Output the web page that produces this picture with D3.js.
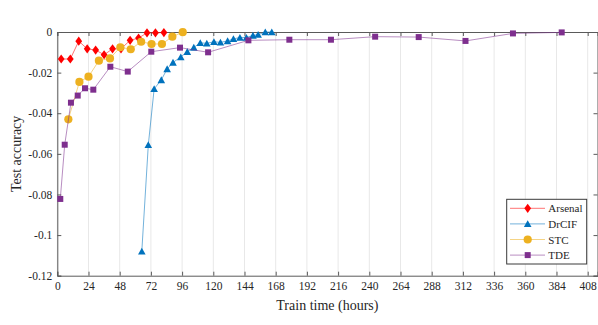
<!DOCTYPE html>
<html>
<head>
<meta charset="utf-8">
<script src="https://cdn.jsdelivr.net/npm/d3@7"></script>
<style>
  html, body { margin: 0; padding: 0; background: #fff; }
  svg { display: block; }
  svg text { font-family: "Liberation Serif", "DejaVu Serif", serif !important; fill: #262626; }
</style>
</head>
<body>
<div id="chart"></div>
<script>
// ---- data ----
const seriesNames = ["Arsenal", "DrCIF", "STC", "TDE"];

const arsenalTime = [3, 10, 16.5, 23, 29.5, 36, 42.5, 49, 56, 62.5, 69, 75.5, 82];
const arsenalAcc  = [-0.0133, -0.0133, -0.0045, -0.0083, -0.0089, -0.0112, -0.0083, -0.0083, -0.0041, -0.0030, -0.0004, -0.0004, -0.0003];

const drcifTime = [65, 70, 74.5, 80, 84.5, 89, 95, 100, 105, 110, 115, 120.5, 125.5, 131, 135.5, 140.5, 145.5, 150.5, 154.5, 160, 165];
const drcifAcc  = [-0.108, -0.0556, -0.028, -0.0236, -0.0182, -0.015, -0.0123, -0.0097, -0.0076, -0.0053, -0.0056, -0.0048, -0.0051, -0.0044, -0.0034, -0.0027, -0.0027, -0.0017, -0.0013, 0, 0];

const stcTime = [8.5, 17, 24, 32, 40.5, 48.5, 56.5, 64.5, 72.5, 80.5, 88.5, 96.5];
const stcAcc  = [-0.0430, -0.0246, -0.0220, -0.0141, -0.0130, -0.0075, -0.0085, -0.0048, -0.0059, -0.0059, -0.0023, -0.0001];

const tdeTime = [2.3, 5.7, 10.5, 15.7, 21.3, 27.7, 40.8, 54.2, 72.3, 94.4, 116, 147, 178.5, 210.5, 244.5, 278, 314, 350.5, 388];
const tdeAcc  = [-0.0822, -0.0555, -0.0348, -0.0313, -0.0277, -0.0284, -0.0171, -0.0195, -0.0097, -0.0077, -0.0100, -0.0041, -0.0038, -0.0038, -0.0023, -0.0025, -0.0044, -0.0007, -0.0002];

const xTicks = [0, 24, 48, 72, 96, 120, 144, 168, 192, 216, 240, 264, 288, 312, 336, 360, 384, 408];
const yTicks = [0, -0.02, -0.04, -0.06, -0.08, -0.1, -0.12];
const xLabel = "Train time (hours)";
const yLabel = "Test accuracy";

// ---- styling ----
const W = 598, H = 325;
const mLeft = 57.3, mRight = 597.5, mTop = 32, mBottom = 275.7;
const colors = { Arsenal: "#ff0000", DrCIF: "#0072bd", STC: "#edb120", TDE: "#7e2f8e" };
const axisColor = "#5a5a5a";
const FONT = '"Liberation Serif", "DejaVu Serif", serif';

const series = [
  { name: "Arsenal", t: arsenalTime, v: arsenalAcc, shape: "diamond" },
  { name: "DrCIF",   t: drcifTime,   v: drcifAcc,   shape: "triangle" },
  { name: "STC",     t: stcTime,     v: stcAcc,     shape: "circle" },
  { name: "TDE",     t: tdeTime,     v: tdeAcc,     shape: "square" }
];

function markerPath(shape) {
  switch (shape) {
    case "diamond":  return "M0,-4.6L3.4,0L0,4.6L-3.4,0Z";
    case "triangle": return "M0,-3.6L3.8,3.2L-3.8,3.2Z";
    case "circle":   return d3.symbol(d3.symbolCircle, Math.PI * 4.1 * 4.1)();
    case "square":   return "M-3,-3L3,-3L3,3L-3,3Z";
  }
}

const svg = d3.select("#chart").append("svg").attr("width", W).attr("height", H)
  .attr("font-family", FONT);

const x = d3.scaleLinear().domain([0, (mRight - mLeft) / 1.3]).range([mLeft, mRight]);
const y = d3.scaleLinear().domain([-0.12, 0]).range([mBottom, mTop]);

// grid (vertical only)
svg.append("g").selectAll("line").data(xTicks).join("line")
  .attr("x1", d => x(d)).attr("x2", d => x(d))
  .attr("y1", mTop).attr("y2", mBottom)
  .attr("stroke", "#e8e8e8").attr("stroke-width", 1);

// axes
const fmtY = d => String(+d.toFixed(2));
const gx = svg.append("g").attr("transform", `translate(0,${mBottom})`)
  .call(d3.axisBottom(x).tickValues(xTicks).tickSize(-4).tickPadding(8).tickFormat(d3.format("d")));
const gxTop = svg.append("g").attr("transform", `translate(0,${mTop})`)
  .call(d3.axisTop(x).tickValues(xTicks).tickSize(-4).tickFormat(""));
const gy = svg.append("g").attr("transform", `translate(${mLeft},0)`)
  .call(d3.axisLeft(y).tickValues(yTicks).tickSize(-4).tickPadding(5).tickFormat(fmtY));
const gyR = svg.append("g").attr("transform", `translate(${mRight},0)`)
  .call(d3.axisRight(y).tickValues(yTicks).tickSize(-4).tickFormat(""));

[gx, gxTop, gy, gyR].forEach(g => {
  g.attr("font-family", FONT).attr("font-size", 11.5);
  g.select(".domain").attr("stroke", axisColor).attr("stroke-width", 1);
  g.selectAll(".tick line").attr("stroke", axisColor).attr("stroke-width", 1);
  g.selectAll(".tick text").attr("fill", "#262626");
});
gx.selectAll(".tick text").attr("dy", "0.55em");

// axis labels
svg.append("text").attr("x", (mLeft + mRight) / 2).attr("y", 305)
  .attr("text-anchor", "middle").attr("dominant-baseline", "central")
  .attr("font-size", 14).text(xLabel);
svg.append("text")
  .attr("transform", `translate(16,${(mTop + mBottom) / 2}) rotate(-90)`)
  .attr("text-anchor", "middle").attr("dominant-baseline", "central")
  .attr("font-size", 14).text(yLabel);

// series
const line = d3.line().x(d => x(d[0])).y(d => y(d[1]));
const plot = svg.append("g");
series.forEach(s => {
  const pts = s.t.map((t, i) => [t, s.v[i]]);
  const g = plot.append("g");
  g.append("path").datum(pts).attr("d", line)
    .attr("fill", "none").attr("stroke", colors[s.name])
    .attr("stroke-opacity", 0.55).attr("stroke-width", 1);
  g.selectAll("path.m").data(pts).join("path").attr("class", "m")
    .attr("d", markerPath(s.shape))
    .attr("transform", d => `translate(${x(d[0])},${y(d[1])})`)
    .attr("fill", colors[s.name]);
});

// legend
const lg = svg.append("g");
lg.append("rect").attr("x", 506.7).attr("y", 199.3).attr("width", 80).attr("height", 64.7)
  .attr("fill", "#fff").attr("stroke", "#3a3a3a").attr("stroke-width", 1);
series.forEach((s, i) => {
  const cy = 208.3 + i * 15.6;
  lg.append("line").attr("x1", 510).attr("x2", 545).attr("y1", cy).attr("y2", cy)
    .attr("stroke", colors[s.name]).attr("stroke-opacity", 0.55).attr("stroke-width", 1);
  lg.append("path").attr("d", markerPath(s.shape))
    .attr("transform", `translate(527.7,${cy})`).attr("fill", colors[s.name]);
  lg.append("text").attr("x", 548.3).attr("y", cy).attr("dominant-baseline", "central")
    .attr("font-size", 11).text(s.name);
});
</script>
</body>
</html>
